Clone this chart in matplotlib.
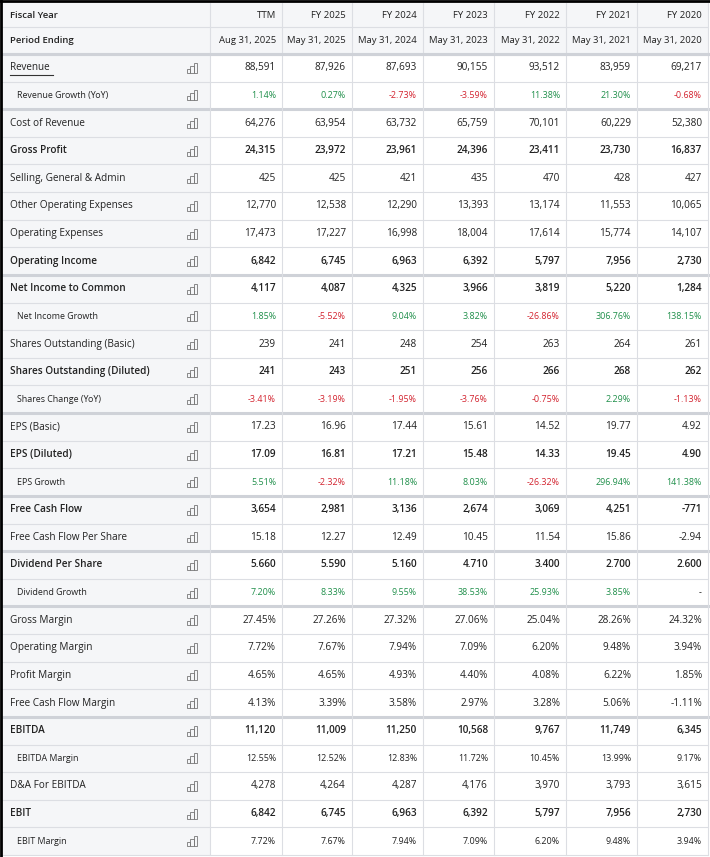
import matplotlib
matplotlib.use("Agg")
import matplotlib.pyplot as plt
from matplotlib.patches import Rectangle

periods = ["TTM", "FY 2025", "FY 2024", "FY 2023", "FY 2022", "FY 2021", "FY 2020"]
period_ending = ["Aug 31, 2025", "May 31, 2025", "May 31, 2024", "May 31, 2023",
                 "May 31, 2022", "May 31, 2021", "May 31, 2020"]

row_labels = ["Revenue", "Revenue Growth (YoY)", "Cost of Revenue", "Gross Profit",
              "Selling, General & Admin", "Other Operating Expenses", "Operating Expenses",
              "Operating Income", "Net Income to Common", "Net Income Growth",
              "Shares Outstanding (Basic)", "Shares Outstanding (Diluted)", "Shares Change (YoY)",
              "EPS (Basic)", "EPS (Diluted)", "EPS Growth", "Free Cash Flow",
              "Free Cash Flow Per Share", "Dividend Per Share", "Dividend Growth",
              "Gross Margin", "Operating Margin", "Profit Margin", "Free Cash Flow Margin",
              "EBITDA", "EBITDA Margin", "D&A For EBITDA", "EBIT", "EBIT Margin"]

row_values = [
    ["88,591", "87,926", "87,693", "90,155", "93,512", "83,959", "69,217"],
    ["1.14%", "0.27%", "-2.73%", "-3.59%", "11.38%", "21.30%", "-0.68%"],
    ["64,276", "63,954", "63,732", "65,759", "70,101", "60,229", "52,380"],
    ["24,315", "23,972", "23,961", "24,396", "23,411", "23,730", "16,837"],
    ["425", "425", "421", "435", "470", "428", "427"],
    ["12,770", "12,538", "12,290", "13,393", "13,174", "11,553", "10,065"],
    ["17,473", "17,227", "16,998", "18,004", "17,614", "15,774", "14,107"],
    ["6,842", "6,745", "6,963", "6,392", "5,797", "7,956", "2,730"],
    ["4,117", "4,087", "4,325", "3,966", "3,819", "5,220", "1,284"],
    ["1.85%", "-5.52%", "9.04%", "3.82%", "-26.86%", "306.76%", "138.15%"],
    ["239", "241", "248", "254", "263", "264", "261"],
    ["241", "243", "251", "256", "266", "268", "262"],
    ["-3.41%", "-3.19%", "-1.95%", "-3.76%", "-0.75%", "2.29%", "-1.13%"],
    ["17.23", "16.96", "17.44", "15.61", "14.52", "19.77", "4.92"],
    ["17.09", "16.81", "17.21", "15.48", "14.33", "19.45", "4.90"],
    ["5.51%", "-2.32%", "11.18%", "8.03%", "-26.32%", "296.94%", "141.38%"],
    ["3,654", "2,981", "3,136", "2,674", "3,069", "4,251", "-771"],
    ["15.18", "12.27", "12.49", "10.45", "11.54", "15.86", "-2.94"],
    ["5.660", "5.590", "5.160", "4.710", "3.400", "2.700", "2.600"],
    ["7.20%", "8.33%", "9.55%", "38.53%", "25.93%", "3.85%", "-"],
    ["27.45%", "27.26%", "27.32%", "27.06%", "25.04%", "28.26%", "24.32%"],
    ["7.72%", "7.67%", "7.94%", "7.09%", "6.20%", "9.48%", "3.94%"],
    ["4.65%", "4.65%", "4.93%", "4.40%", "4.08%", "6.22%", "1.85%"],
    ["4.13%", "3.39%", "3.58%", "2.97%", "3.28%", "5.06%", "-1.11%"],
    ["11,120", "11,009", "11,250", "10,568", "9,767", "11,749", "6,345"],
    ["12.55%", "12.52%", "12.83%", "11.72%", "10.45%", "13.99%", "9.17%"],
    ["4,278", "4,264", "4,287", "4,176", "3,970", "3,793", "3,615"],
    ["6,842", "6,745", "6,963", "6,392", "5,797", "7,956", "2,730"],
    ["7.72%", "7.67%", "7.94%", "7.09%", "6.20%", "9.48%", "3.94%"],
]

bold_rows = {"Gross Profit", "Operating Income", "Net Income to Common",
             "Shares Outstanding (Diluted)", "EPS (Diluted)", "Free Cash Flow",
             "Dividend Per Share", "EBITDA", "EBIT"}
sub_rows = {"Revenue Growth (YoY)", "Net Income Growth", "Shares Change (YoY)",
            "EPS Growth", "Dividend Growth", "EBITDA Margin", "EBIT Margin"}
colored_rows = {"Revenue Growth (YoY)", "Net Income Growth", "Shares Change (YoY)",
                "EPS Growth", "Dividend Growth"}
group_starts = {"Revenue", "Cost of Revenue", "Net Income to Common", "EPS (Basic)",
                "Free Cash Flow", "Dividend Per Share", "Gross Margin", "EBITDA"}

W, H = 710, 857
fig = plt.figure(figsize=(W / 100, H / 100), dpi=100)
ax = fig.add_axes([0, 0, 1, 1])
ax.set_xlim(0, W)
ax.set_ylim(H, 0)
ax.axis("off")

FONT = "Open Sans"
col_edges = [210, 282, 352, 423, 494, 566, 637, 708]
left = 2
GREEN, RED = "#1f8f4a", "#d3232f"
grid = "#dcdee3"

hdr_bounds = [(3, 27), (27, 53)]
for (y0, y1) in hdr_bounds:
    ax.add_patch(Rectangle((left, y0), 706, y1 - y0, fc="#f5f6f8", ec="none"))
for i, p in enumerate(periods):
    ax.text(col_edges[i + 1] - 6, 15, p, ha="right", va="center", fontsize=6.8,
            fontfamily=FONT, color="#222")
    ax.text(col_edges[i + 1] - 6, 40, period_ending[i], ha="right", va="center",
            fontsize=6.8, fontfamily=FONT, color="#222")
ax.text(10, 15, "Fiscal Year", ha="left", va="center", fontsize=6.8, fontfamily=FONT,
        fontweight="semibold", color="#222")
ax.text(10, 40, "Period Ending", ha="left", va="center", fontsize=6.8, fontfamily=FONT,
        fontweight="semibold", color="#222")
ax.plot([left, 708], [27, 27], color=grid, lw=0.8)

y = 54
row_h = (855 - 54) / len(row_labels)
for r, lab in enumerate(row_labels):
    y0, y1 = y + r * row_h, y + (r + 1) * row_h
    yc = (y0 + y1) / 2
    ax.add_patch(Rectangle((left, y0), 208, row_h, fc="#f5f6f8", ec="none"))
    ax.plot([left, 708], [y1, y1], color=grid, lw=0.8)
    if lab in group_starts:
        ax.plot([left, 708], [y0, y0], color="#cfd2d8", lw=2.2)
    sub = lab in sub_rows
    fs = 6.4 if sub else 7.2
    ax.text(17 if sub else 10, yc, lab, ha="left", va="center",
            fontsize=fs, fontfamily=FONT,
            fontweight="semibold" if lab in bold_rows else "normal", color="#222")
    if lab == "Revenue":
        ax.plot([10, 53], [yc + 7, yc + 7], color="#333", lw=0.8)
    ix = 187
    for k, hh in enumerate([4, 7, 10]):
        ax.add_patch(Rectangle((ix + k * 3.3, yc + 5 - hh), 3.3, hh, fc="none",
                               ec="#777", lw=0.6))
    for i, v in enumerate(row_values[r]):
        col = "#222"
        if lab in colored_rows and v != "-":
            col = RED if v.startswith("-") else GREEN
        ax.text(col_edges[i + 1] - 6, yc, v, ha="right", va="center",
                fontsize=fs, fontfamily=FONT,
                fontweight="semibold" if lab in bold_rows else "normal", color=col)

for x in col_edges:
    ax.plot([x, x], [3, 855], color=grid, lw=0.8)
ax.plot([left, 708], [53.5, 53.5], color="#cfd2d8", lw=2.2)
ax.plot([1, 1], [0, H], color="black", lw=2)
ax.plot([0, W], [1, 1], color="black", lw=2)

fig.savefig("out.png", dpi=100)
